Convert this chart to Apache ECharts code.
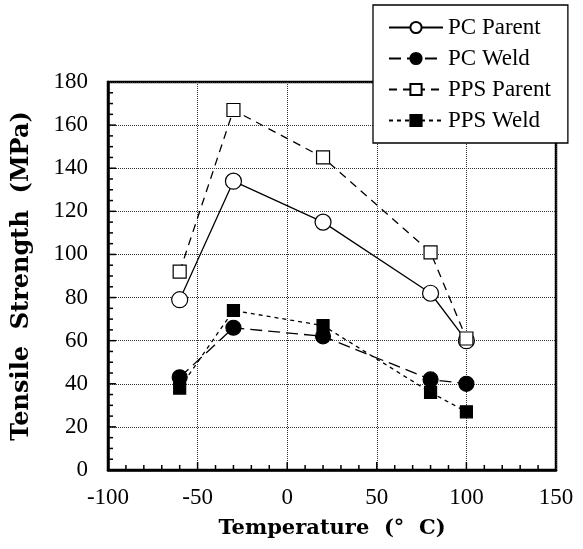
<!DOCTYPE html>
<html lang="en">
  <head>
    <meta charset="UTF-8" />
    <title>Tensile Strength vs Temperature</title>
    <script src="https://cdn.jsdelivr.net/npm/echarts@6.0.0/dist/echarts.min.js"></script>
    <style>
      html, body { margin: 0; padding: 0; background: #fff; }
    </style>
  </head>
  <body>
    <div id="main" style="width: 583px; height: 549px"></div>
    <script type="text/javascript">
      // values
      const temps = [-60, -30, 20, 80, 100];
      const pcParent = [79, 134, 115, 82, 60];
      const pcWeld = [43, 66, 62, 42, 40];
      const ppsParent = [92, 167, 145, 101, 61];
      const ppsWeld = [38, 74, 67, 36, 27];

      // tick positions (major every 50 / 20, minor every 10 / 5)
      const xTickValues = [-90, -80, -70, -60, -50, -40, -30, -20, -10, 0, 10, 20, 30, 40, 50,
        60, 70, 80, 90, 100, 110, 120, 130, 140];
      const yTickValues = [5, 10, 15, 20, 25, 30, 35, 40, 45, 50, 55, 60, 65, 70, 75, 80, 85, 90,
        95, 100, 105, 110, 115, 120, 125, 130, 135, 140, 145, 150, 155, 160, 165, 170, 175];

      const serif = "Liberation Serif";
      const titleFont = "DejaVu Serif";
      const seriesNames = ["PC Parent", "PC Weld", "PPS Parent", "PPS Weld"];

      function pairs(vals) {
        return temps.map((t, i) => [t, vals[i]]);
      }

      function makeSeries(name, vals, symbol, size, fill, dash) {
        return {
          name: name,
          type: "line",
          data: pairs(vals),
          symbol: symbol,
          symbolSize: size,
          showAllSymbol: true,
          itemStyle: { color: fill, borderColor: "#000", borderWidth: 1.2 },
          lineStyle: { color: "#000", width: 1.3, type: dash },
          z: 3,
        };
      }

      // inside ticks along the bottom and left axes, placed through the axis scales
      const tickData = xTickValues.map((v) => [v, 0]).concat(yTickValues.map((v) => [-100, v]));
      function renderTick(params, api) {
        const xv = api.value(0);
        const yv = api.value(1);
        const p = api.coord([xv, yv]);
        const style = { stroke: "#000", lineWidth: 1.5 };
        if (yv === 0) {
          const len = xv % 50 === 0 ? 8 : 5;
          return { type: "line", shape: { x1: p[0], y1: p[1], x2: p[0], y2: p[1] - len }, style: style };
        }
        const len = yv % 20 === 0 ? 8 : 5;
        return { type: "line", shape: { x1: p[0], y1: p[1], x2: p[0] + len, y2: p[1] }, style: style };
      }

      let options = {
        animation: false,
        backgroundColor: "#fff",
        grid: {
          left: 108, right: 27, top: 82, bottom: 79,
          show: true, borderColor: "#000", borderWidth: 2.5, backgroundColor: "transparent",
        },
        legend: {
          data: seriesNames,
          orient: "vertical",
          left: 373,
          top: 5,
          padding: [11, 17, 11, 15],
          itemGap: 8,
          itemWidth: 54,
          itemHeight: 14,
          backgroundColor: "#fff",
          borderColor: "#000",
          borderWidth: 1.3,
          textStyle: { fontFamily: serif, fontSize: 23, color: "#000" },
        },
        xAxis: {
          type: "value",
          min: -100,
          max: 150,
          interval: 50,
          axisLine: { show: true, onZero: false, lineStyle: { color: "#000", width: 2.5 } },
          axisTick: { show: false },
          splitLine: { show: true, lineStyle: { color: "#333", type: "dotted", width: 1 } },
          axisLabel: { fontFamily: serif, fontSize: 23, color: "#000", margin: 16 },
          name: "Temperature  (°  C)",
          nameLocation: "middle",
          nameGap: 48,
          nameTextStyle: { fontFamily: titleFont, fontSize: 21, fontWeight: "bold", color: "#000" },
        },
        yAxis: {
          type: "value",
          min: 0,
          max: 180,
          interval: 20,
          axisLine: { show: true, onZero: false, lineStyle: { color: "#000", width: 2.5 } },
          axisTick: { show: false },
          splitLine: { show: true, lineStyle: { color: "#333", type: "dotted", width: 1 } },
          axisLabel: { fontFamily: serif, fontSize: 23, color: "#000", margin: 20 },
          name: "Tensile  Strength  (MPa)",
          nameLocation: "middle",
          nameGap: 74,
          nameTextStyle: { fontFamily: titleFont, fontSize: 24, fontWeight: "bold", color: "#000" },
        },
        series: [
          makeSeries(seriesNames[0], pcParent, "circle", 16, "#fff", "solid"),
          makeSeries(seriesNames[1], pcWeld, "circle", 15, "#000", [12, 6]),
          makeSeries(seriesNames[2], ppsParent, "rect", 13, "#fff", [8, 6]),
          makeSeries(seriesNames[3], ppsWeld, "rect", 12, "#000", [4, 4]),
          {
            name: "ticks",
            type: "custom",
            data: tickData,
            renderItem: renderTick,
            clip: false,
            silent: true,
            z: 5,
          },
        ],
      };

      let myChart = echarts.init(document.getElementById("main"));
      myChart.setOption(options);
    </script>
  </body>
</html>
